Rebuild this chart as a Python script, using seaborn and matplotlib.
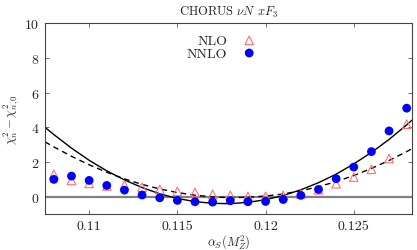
import numpy as np
import pandas as pd
import matplotlib
matplotlib.use('Agg')
import matplotlib.pyplot as plt
import seaborn as sns

# alpha_s points
alpha_s = [0.108, 0.109, 0.110, 0.111, 0.112, 0.113, 0.114, 0.115, 0.116, 0.117, 0.118,
           0.119, 0.120, 0.121, 0.122, 0.123, 0.124, 0.125, 0.126, 0.127, 0.128]
nlo = [1.29, 0.94, 0.77, 0.62, 0.67, 0.55, 0.42, 0.31, 0.25, 0.13, 0.08,
       0.02, 0.02, 0.08, 0.15, 0.40, 0.75, 1.13, 1.58, 2.20, 4.18]
nnlo = [1.00, 1.19, 0.94, 0.65, 0.38, 0.10, -0.06, -0.21, -0.29, -0.31, -0.23,
        -0.29, -0.27, -0.16, 0.08, 0.42, 1.04, 1.71, 2.60, 3.79, 5.10]

# fitted parabolas
curve_x = [0.1075, 0.108, 0.109, 0.110, 0.111, 0.112, 0.113, 0.114, 0.115, 0.116, 0.117,
           0.118, 0.119, 0.120, 0.121, 0.122, 0.123, 0.124, 0.125, 0.126, 0.127, 0.128, 0.1283]
fit_nnlo = [4.00, 3.58, 2.80, 2.10, 1.49, 0.97, 0.53, 0.17, -0.10, -0.28, -0.38,
            -0.40, -0.32, -0.17, 0.07, 0.40, 0.81, 1.30, 1.89, 2.55, 3.30, 4.14, 4.41]
fit_nlo = [3.16, 2.87, 2.33, 1.84, 1.41, 1.03, 0.71, 0.45, 0.24, 0.09, -0.01,
           -0.05, -0.03, 0.04, 0.16, 0.34, 0.58, 0.87, 1.22, 1.63, 2.09, 2.60, 2.77]

pts = pd.DataFrame({'x': alpha_s, 'nlo': nlo, 'nnlo': nnlo})
fits = pd.DataFrame({'x': curve_x, 'nnlo': fit_nnlo, 'nlo': fit_nlo})

sns.set_style('ticks')
plt.rcParams['font.family'] = 'serif'
plt.rcParams['font.serif'] = ['cmr10']
plt.rcParams['mathtext.fontset'] = 'cm'
plt.rcParams['axes.formatter.use_mathtext'] = True

fig = plt.figure(figsize=(4.17, 2.51), dpi=100)
ax = fig.add_axes([0.108, 0.143, 0.880, 0.761])

ax.axhline(0, color='#808080', lw=1.6, zorder=1)
sns.lineplot(data=fits, x='x', y='nnlo', ax=ax, color='black', lw=1.0, zorder=2)
sns.lineplot(data=fits, x='x', y='nlo', ax=ax, color='black', lw=1.0, ls=(0, (4, 3)), zorder=2)
sns.scatterplot(data=pts, x='x', y='nlo', ax=ax, marker='^', s=38, facecolor='none',
                edgecolor='#ff7070', linewidth=0.8, label='NLO', zorder=3)
sns.scatterplot(data=pts, x='x', y='nnlo', ax=ax, marker='o', s=40, color='#0000ff',
                edgecolor='none', label='NNLO', zorder=4)

ax.set_xlim(0.1075, 0.1283)
ax.set_ylim(-1, 10)
ax.set_xticks([0.11, 0.115, 0.12, 0.125])
ax.set_xticklabels(['0.11', '0.115', '0.12', '0.125'])
ax.set_yticks([0, 2, 4, 6, 8, 10])
ax.tick_params(direction='in', top=True, right=True, length=3, width=0.6,
               labelsize=10, color='#555555', pad=4)
for sp in ax.spines.values():
    sp.set_color('#444444')
    sp.set_linewidth(0.8)

ax.set_title(r'CHORUS $\nu N$ $xF_3$', fontsize=9, pad=6)
ax.set_xlabel(r'$\alpha_S(M_Z^2)$', fontsize=9, labelpad=0)
ax.set_ylabel(r'$\chi^2_n-\chi^2_{n,0}$', fontsize=9, labelpad=2)

ax.legend(loc='upper center', bbox_to_anchor=(0.49, 1.0), frameon=False, markerfirst=False,
          fontsize=10, handletextpad=0.6, labelspacing=0.0, borderaxespad=0.4)

fig.savefig('out.png', dpi=100)
